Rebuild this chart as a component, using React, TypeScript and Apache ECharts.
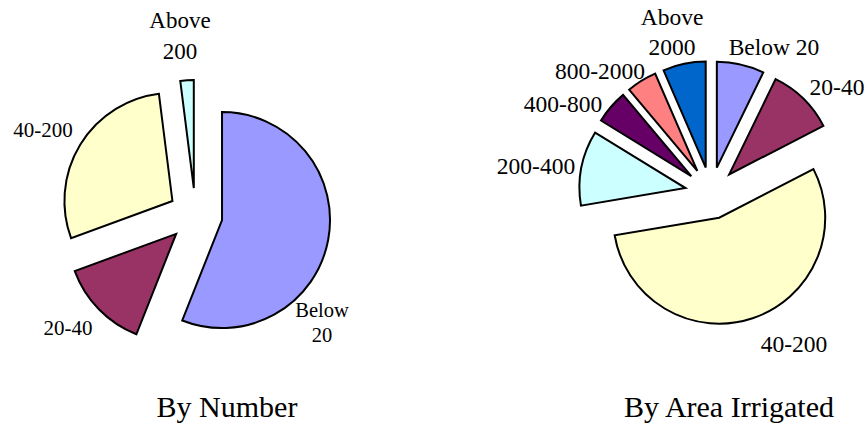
import { useEffect, useRef } from 'react';
import * as echarts from 'echarts';

// Size classes (hectares) and their shares, in per cent
const numberCategories = ['Below 20', '20-40', '40-200', 'Above 200'];
const numberShares = [56.0, 13.4, 28.6, 2.0];
const numberLabels = ['Below\n20', '20-40', '40-200', 'Above\n200'];

const areaCategories = ['Below 20', '20-40', '40-200', '200-400', '400-800', '800-2000', 'Above 2000'];
const areaShares = [7.2, 10.2, 54.8, 11.4, 5.1, 4.6, 6.5];
const areaLabels = ['Below 20', '20-40', '40-200', '200-400', '400-800', '800-2000', 'Above\n2000'];

const panelTitles = ['By Number', 'By Area Irrigated'];

const classColors: Record<string, string> = {
  'Below 20': '#9999FF',
  '20-40': '#993366',
  '40-200': '#FFFFCC',
  'Above 200': '#CCFFFF',
  '200-400': '#CCFFFF',
  '400-800': '#660066',
  '800-2000': '#FF8080',
  'Above 2000': '#0066CC',
};

const FONT = '"Liberation Serif", "Times New Roman", serif';

// Label placement [x, y] and [fontSize, lineHeight] for each slice
const numberLabelPos = [[322, 322], [68, 328], [43, 130], [180, 36]];
const numberLabelFont = [[20.5, 25], [21, 24], [21, 24], [23, 30.5]];
const areaLabelPos = [[774, 47], [837, 87], [794, 344], [536, 166], [563, 104], [600, 71], [672, 32]];
const areaLabelFont = [[23.5, 26], [23.5, 26], [23.5, 26], [23.5, 26], [23.5, 26], [23.5, 26], [23.5, 30.5]];

// Exploded slices: every item is selected so it is pushed out along its mid-angle
function explodedPie(
  name: string,
  categories: string[],
  shares: number[],
  center: number[],
  radius: number,
  offset: number
) {
  return {
    type: 'pie',
    name,
    center,
    radius,
    startAngle: 90,
    clockwise: true,
    selectedMode: 'multiple',
    selectedOffset: offset,
    avoidLabelOverlap: false,
    itemStyle: { borderColor: '#000', borderWidth: 2, borderJoin: 'miter' },
    label: { show: false },
    labelLine: { show: false },
    emphasis: { disabled: true, scale: false },
    select: { itemStyle: { borderColor: '#000', borderWidth: 2 } },
    data: categories.map((c, i) => ({
      name: c,
      value: shares[i],
      selected: true,
      itemStyle: { color: classColors[c] },
    })),
  };
}

// Same slices again, unfilled, only carrying the category labels
function pieLabels(
  name: string,
  categories: string[],
  shares: number[],
  labels: string[],
  center: number[],
  radius: number,
  labelPos: number[][],
  labelFont: number[][]
) {
  return {
    type: 'pie',
    name,
    center,
    radius,
    startAngle: 90,
    clockwise: true,
    silent: true,
    avoidLabelOverlap: false,
    itemStyle: { color: 'rgba(0,0,0,0)', borderWidth: 0 },
    label: {
      show: true,
      position: 'inside',
      color: '#000',
      fontFamily: FONT,
      align: 'center',
      verticalAlign: 'middle',
    },
    labelLine: { show: false },
    emphasis: { disabled: true, scale: false },
    labelLayout: (p: any) => ({
      x: labelPos[p.dataIndex][0],
      y: labelPos[p.dataIndex][1],
      align: 'center',
      verticalAlign: 'middle',
    }),
    data: categories.map((c, i) => ({
      name: c,
      value: shares[i],
      label: {
        formatter: labels[i],
        fontSize: labelFont[i][0],
        lineHeight: labelFont[i][1],
      },
    })),
  };
}

export default function App() {
  const ref = useRef<HTMLDivElement>(null);

  useEffect(() => {
    if (!ref.current) return;
    const chart = echarts.init(ref.current, undefined, { renderer: 'svg' });
    const leftCenter = [195.5, 215];
    const rightCenter = [711, 193];
    chart.setOption({
      animation: false,
      backgroundColor: '#fff',
      series: [
        explodedPie('By Number', numberCategories, numberShares, leftCenter, 108, 27),
        explodedPie('By Area Irrigated', areaCategories, areaShares, rightCenter, 106, 26),
        pieLabels('By Number labels', numberCategories, numberShares, numberLabels,
          leftCenter, 108, numberLabelPos, numberLabelFont),
        pieLabels('By Area Irrigated labels', areaCategories, areaShares, areaLabels,
          rightCenter, 106, areaLabelPos, areaLabelFont),
      ],
      graphic: [
        {
          type: 'text',
          x: 227,
          y: 406,
          style: {
            text: panelTitles[0],
            font: `30px ${FONT}`,
            fill: '#000',
            align: 'center',
            verticalAlign: 'middle',
            textAlign: 'center',
            textVerticalAlign: 'middle',
          },
        },
        {
          type: 'text',
          x: 729,
          y: 406,
          style: {
            text: panelTitles[1],
            font: `30px ${FONT}`,
            fill: '#000',
            align: 'center',
            verticalAlign: 'middle',
            textAlign: 'center',
            textVerticalAlign: 'middle',
          },
        },
      ],
    });
    return () => chart.dispose();
  }, []);

  return (
    <div
      ref={ref}
      style={{ position: 'absolute', left: 0, top: 0, width: 866, height: 424, background: '#fff' }}
    />
  );
}
